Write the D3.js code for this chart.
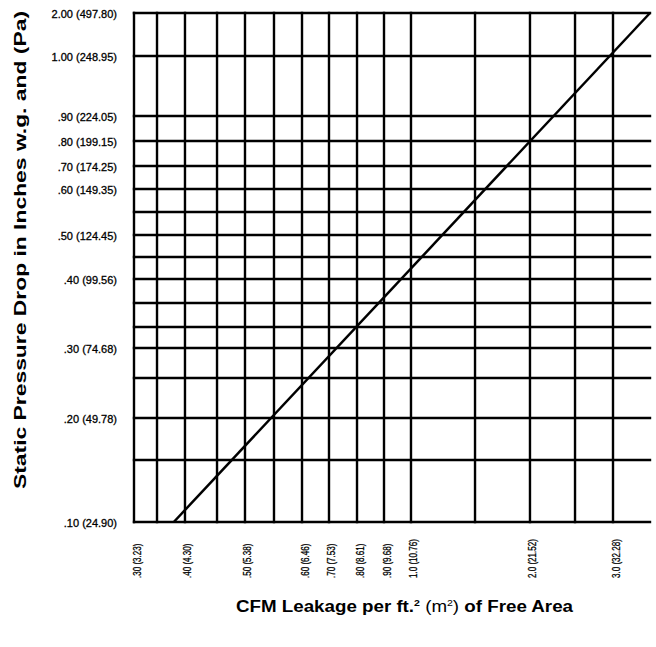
<!DOCTYPE html>
<html>
<head>
<meta charset="utf-8">
<script src="https://cdn.jsdelivr.net/npm/d3@7"></script>
<style>
  body { margin: 0; background: #fff; }
  svg { display: block; }
</style>
</head>
<body>
<div id="chart"></div>
<script>
var font = {
            tick: 11,
            xtick: 11,
            title: 16,
           }

// labelled ticks, inches w.g. with Pa in brackets
let pressureTicks = [0.10, 0.20, 0.30, 0.40, 0.50, 0.60, 0.70, 0.80, 0.90, 1.00, 2.00];
let pressurePa    = ["24.90", "49.78", "74.68", "99.56", "124.45", "149.35", "174.25", "199.15", "224.05", "248.95", "497.80"];
let pressureText  = [".10", ".20", ".30", ".40", ".50", ".60", ".70", ".80", ".90", "1.00", "2.00"];
// every ruled horizontal line of the paper grid
let pressureGrid  = [0.10, 0.15, 0.20, 0.25, 0.30, 0.33, 0.37, 0.40, 0.45, 0.50, 0.55, 0.60, 0.70, 0.80, 0.90, 1.00, 2.00];

// labelled ticks, CFM per ft2 with m2 in brackets
let leakTicks = [0.30, 0.40, 0.50, 0.60, 0.70, 0.80, 0.90, 1.0, 2.0, 3.0];
let leakM2    = ["3.23", "4.30", "5.38", "6.46", "7.53", "8.61", "9.68", "10.76", "21.52", "32.28"];
let leakText  = [".30", ".40", ".50", ".60", ".70", ".80", ".90", "1.0", "2.0", "3.0"];
let leakGrid  = [0.30, 0.35, 0.40, 0.45, 0.50, 0.55, 0.60, 0.70, 0.80, 0.90, 1.0, 1.5, 2.0, 2.5, 3.0];
let leakMax   = 3.5;

// the leakage curve (straight on this paper)
let curveLeak     = [0.38, 3.5];
let curvePressure = [0.10, 2.00];

let margin = {left: 134, right: 6, top: 13, bottom: 125};
let width = 656;
let height = 647;
let w = width - margin.left - margin.right;
let h = height - margin.top - margin.bottom;

// the printed chart paper is not evenly ruled, so the scales are piecewise:
// each ruled line sits at its own fraction of the plot
let xStops = [0, .0446, .0988, .1609, .2151, .2713, .3256, .3779, .4322, .4845, .5368, .6609, .7674, .8547, .9283, 1];
let yStops = [1, .8782, .7957, .7171, .6582, .6169, .5697, .5226, .4794, .4361, .3910, .3458, .3006, .2515, .2024, .0845, 0];

let x = d3.scaleLinear().domain(leakGrid.concat([leakMax])).range(xStops.map(function(f){ return f*w; }));
let y = d3.scaleLinear().domain(pressureGrid).range(yStops.map(function(f){ return f*h; }));

let svg = d3.select("#chart").append("svg")
    .attr("width", width)
    .attr("height", height);

let chartGroup = svg.append("g").attr("transform", "translate("+margin.left+","+margin.top+")");

let gridGroup = chartGroup.append("g").attr("class", "grid");

gridGroup.selectAll("line.h")
    .data(pressureGrid).enter()
    .append("line")
        .attr("class", "h")
        .attr("x1", 0)
        .attr("x2", w)
        .attr("y1", function(d){ return y(d);})
        .attr("y2", function(d){ return y(d);});

gridGroup.selectAll("line.v")
    .data(leakGrid).enter()
    .append("line")
        .attr("class", "v")
        .attr("x1", function(d){ return x(d);})
        .attr("x2", function(d){ return x(d);})
        .attr("y1", 0)
        .attr("y2", h);

gridGroup.selectAll("line")
    .attr("stroke", "#000")
    .attr("stroke-width", 2.4)
    .attr("stroke-linecap", "square");

let curve = d3.line()
    .x(function(d){ return x(d[0]);})
    .y(function(d){ return y(d[1]);});

chartGroup.append("path")
    .attr("d", curve(d3.zip(curveLeak, curvePressure)))
    .attr("fill", "none")
    .attr("stroke", "#000")
    .attr("stroke-width", 2.5);

// squeeze a label like the narrow face on the print
function narrow(sel, k){
    sel.each(function(){
        let len = this.getComputedTextLength();
        d3.select(this).attr("textLength", len*k).attr("lengthAdjust", "spacingAndGlyphs");
    });
}

// y axis labels
let yAxis = d3.axisLeft(y)
    .tickValues(pressureTicks)
    .tickSize(0)
    .tickPadding(17)
    .tickFormat(function(d,i){ return pressureText[i]+" ("+pressurePa[i]+")";});

chartGroup.append("g").attr("class", "axis axis--y").call(yAxis);
chartGroup.select(".axis--y .domain").remove();
chartGroup.selectAll(".axis--y .tick text")
    .attr("font-family", "'Liberation Sans', Arial, sans-serif")
    .attr("font-size", font.tick)
    .attr("fill", "#000")
    .attr("stroke", "#000")
    .attr("stroke-width", 0.3)
    .attr("dy", "0.42em");

// x axis labels, turned on their side
let xAxis = d3.axisBottom(x)
    .tickValues(leakTicks)
    .tickSize(0)
    .tickFormat(function(d,i){ return leakText[i]+" ("+leakM2[i]+")";});

chartGroup.append("g").attr("class", "axis axis--x")
    .attr("transform", "translate(0,"+h+")")
    .call(xAxis);
chartGroup.select(".axis--x .domain").remove();
chartGroup.selectAll(".axis--x .tick text")
    .attr("font-family", "'Liberation Sans', Arial, sans-serif")
    .attr("font-size", font.xtick)
    .attr("fill", "#000")
    .attr("stroke", "#000")
    .attr("stroke-width", 0.3)
    .attr("text-anchor", "start")
    .attr("dominant-baseline", "central")
    .attr("x", 0)
    .attr("y", 0)
    .attr("dy", null)
    .attr("transform", "translate(2,56) rotate(-90)")
    .call(narrow, 0.73);

// axis titles, stretched to the length they have on the print
svg.append("text")
    .attr("transform", "translate(20,250) rotate(-90)")
    .attr("text-anchor", "middle")
    .attr("dominant-baseline", "central")
    .attr("font-family", "'Liberation Sans', Arial, sans-serif")
    .attr("font-weight", "bold")
    .attr("font-size", font.title)
    .attr("fill", "#000")
    .attr("textLength", 478)
    .attr("lengthAdjust", "spacingAndGlyphs")
    .text("Static Pressure Drop in Inches w.g. and (Pa)");

let xTitle = svg.append("text")
    .attr("x", 236)
    .attr("y", 612)
    .attr("font-family", "'Liberation Sans', Arial, sans-serif")
    .attr("font-weight", "bold")
    .attr("font-size", font.title)
    .attr("fill", "#000")
    .attr("textLength", 337)
    .attr("lengthAdjust", "spacingAndGlyphs");
xTitle.append("tspan").text("CFM Leakage per ft.");
xTitle.append("tspan").attr("font-size", 9).attr("dy", -6).text("2");
xTitle.append("tspan").attr("font-weight", "normal").attr("dy", 6).text(" (m");
xTitle.append("tspan").attr("font-weight", "normal").attr("font-size", 9).attr("dy", -6).text("2");
xTitle.append("tspan").attr("font-weight", "normal").attr("dy", 6).text(")");
xTitle.append("tspan").text(" of Free Area");
</script>
</body>
</html>
